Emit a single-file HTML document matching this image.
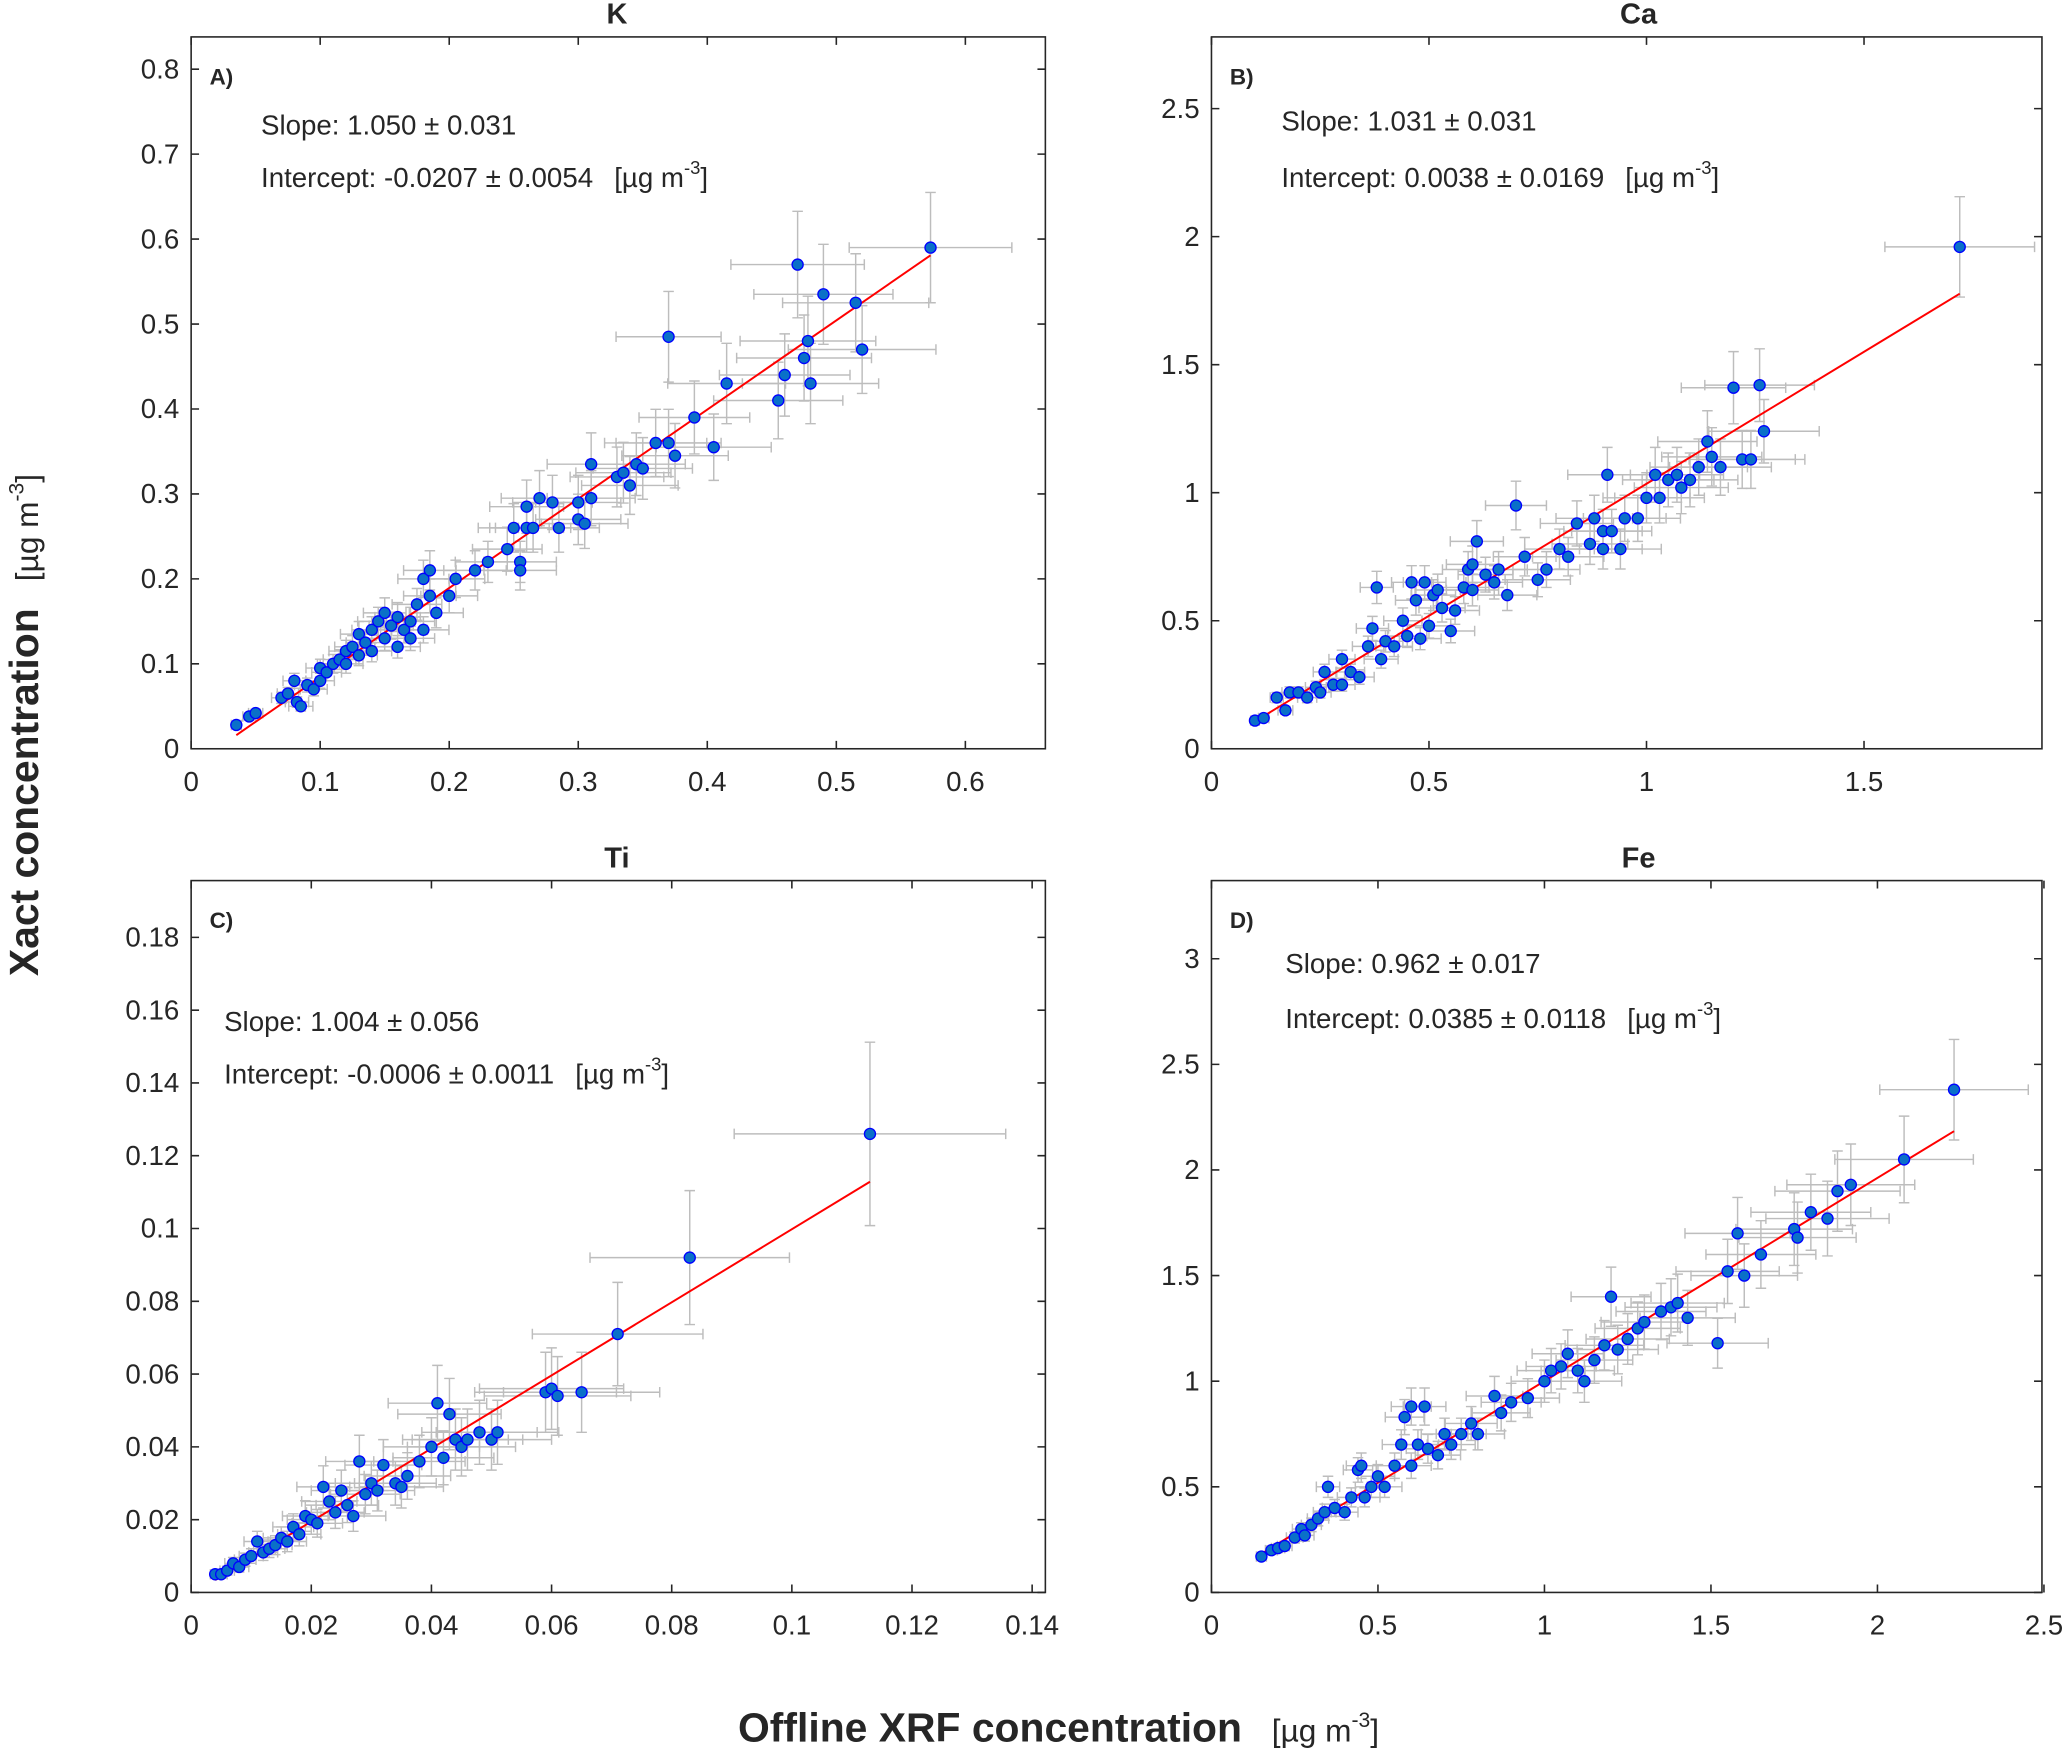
<!DOCTYPE html>
<html><head><meta charset="utf-8"><style>
html,body{margin:0;padding:0;background:#fff}
svg{display:block}
text{font-family:"Liberation Sans",Arial,sans-serif;fill:#262626}
</style></head><body>
<svg id="fig" width="2067" height="1748" viewBox="0 0 1568 1326" xmlns="http://www.w3.org/2000/svg">
<text transform="translate(29,550) rotate(-90)" text-anchor="middle" font-size="31" font-weight="bold" fill="#000">Xact concentration <tspan font-weight="normal" font-size="24" dx="12">[µg m</tspan><tspan font-weight="normal" font-size="16" dy="-11">-3</tspan><tspan font-weight="normal" font-size="24" dy="11">]</tspan></text>
<text x="803" y="1321" text-anchor="middle" font-size="31" font-weight="bold" fill="#000">Offline XRF concentration <tspan font-weight="normal" font-size="24" dx="14">[µg m</tspan><tspan font-weight="normal" font-size="16" dy="-11">-3</tspan><tspan font-weight="normal" font-size="24" dy="11">]</tspan></text>
</svg>
<script>
// Panel A (K)
const kX=[0.035,0.045,0.05,0.07,0.075,0.08,0.082,0.085,0.09,0.095,0.1,0.1,0.105,0.11,0.115,0.12,0.12,0.125,0.13,0.13,0.135,0.14,0.14,0.145,0.15,0.15,0.155,0.16,0.16,0.165,0.17,0.17,0.175,0.18,0.18,0.185,0.185,0.19,0.2,0.205,0.22,0.23,0.245,0.25,0.255,0.255,0.26,0.26,0.265,0.27,0.28,0.285,0.3,0.3,0.305,0.31,0.31,0.33,0.335,0.34,0.345,0.35,0.36,0.37,0.37,0.375,0.39,0.405,0.415,0.455,0.46,0.47,0.475,0.478,0.48,0.49,0.515,0.52,0.573];
const kY=[0.028,0.038,0.042,0.06,0.065,0.08,0.055,0.05,0.075,0.07,0.08,0.095,0.09,0.1,0.105,0.115,0.1,0.12,0.11,0.135,0.125,0.14,0.115,0.15,0.13,0.16,0.145,0.155,0.12,0.14,0.15,0.13,0.17,0.2,0.14,0.21,0.18,0.16,0.18,0.2,0.21,0.22,0.235,0.26,0.22,0.21,0.285,0.26,0.26,0.295,0.29,0.26,0.27,0.29,0.265,0.335,0.295,0.32,0.325,0.31,0.335,0.33,0.36,0.485,0.36,0.345,0.39,0.355,0.43,0.41,0.44,0.57,0.46,0.48,0.43,0.535,0.525,0.47,0.59];
// Panel B (Ca)
const caX=[0.1,0.12,0.15,0.17,0.18,0.2,0.22,0.24,0.25,0.26,0.28,0.3,0.3,0.32,0.34,0.36,0.37,0.38,0.39,0.4,0.42,0.44,0.45,0.46,0.47,0.48,0.49,0.5,0.51,0.52,0.53,0.55,0.56,0.58,0.59,0.6,0.6,0.61,0.63,0.65,0.66,0.68,0.7,0.72,0.75,0.77,0.8,0.82,0.84,0.87,0.88,0.9,0.9,0.91,0.92,0.94,0.95,0.98,1.0,1.02,1.03,1.05,1.07,1.08,1.1,1.12,1.14,1.15,1.17,1.2,1.22,1.24,1.26,1.27,1.72];
const caY=[0.11,0.12,0.2,0.15,0.22,0.22,0.2,0.24,0.22,0.3,0.25,0.35,0.25,0.3,0.28,0.4,0.47,0.63,0.35,0.42,0.4,0.5,0.44,0.65,0.58,0.43,0.65,0.48,0.6,0.62,0.55,0.46,0.54,0.63,0.7,0.72,0.62,0.81,0.68,0.65,0.7,0.6,0.95,0.75,0.66,0.7,0.78,0.75,0.88,0.8,0.9,0.85,0.78,1.07,0.85,0.78,0.9,0.9,0.98,1.07,0.98,1.05,1.07,1.02,1.05,1.1,1.2,1.14,1.1,1.41,1.13,1.13,1.42,1.24,1.96];
// Panel C (Ti)
const tiX=[0.004,0.005,0.006,0.007,0.008,0.009,0.01,0.011,0.012,0.013,0.014,0.015,0.016,0.017,0.018,0.019,0.02,0.021,0.022,0.023,0.024,0.025,0.026,0.027,0.028,0.029,0.03,0.031,0.032,0.034,0.035,0.036,0.038,0.04,0.041,0.042,0.043,0.044,0.045,0.046,0.048,0.05,0.051,0.059,0.06,0.061,0.065,0.071,0.083,0.113];
const tiY=[0.005,0.005,0.006,0.008,0.007,0.009,0.01,0.014,0.011,0.012,0.013,0.015,0.014,0.018,0.016,0.021,0.02,0.019,0.029,0.025,0.022,0.028,0.024,0.021,0.036,0.027,0.03,0.028,0.035,0.03,0.029,0.032,0.036,0.04,0.052,0.037,0.049,0.042,0.04,0.042,0.044,0.042,0.044,0.055,0.056,0.054,0.055,0.071,0.092,0.126];
// Panel D (Fe)
const feX=[0.15,0.18,0.2,0.22,0.25,0.27,0.28,0.3,0.32,0.34,0.35,0.37,0.4,0.42,0.44,0.45,0.46,0.48,0.5,0.52,0.55,0.57,0.58,0.6,0.6,0.62,0.64,0.65,0.68,0.7,0.72,0.75,0.78,0.8,0.85,0.87,0.9,0.95,1.0,1.02,1.05,1.07,1.1,1.12,1.15,1.18,1.2,1.22,1.25,1.28,1.3,1.35,1.38,1.4,1.43,1.52,1.55,1.58,1.6,1.65,1.75,1.76,1.8,1.85,1.88,1.92,2.08,2.23];
const feY=[0.17,0.2,0.21,0.22,0.26,0.3,0.27,0.32,0.35,0.38,0.5,0.4,0.38,0.45,0.58,0.6,0.45,0.5,0.55,0.5,0.6,0.7,0.83,0.88,0.6,0.7,0.88,0.68,0.65,0.75,0.7,0.75,0.8,0.75,0.93,0.85,0.9,0.92,1.0,1.05,1.07,1.13,1.05,1.0,1.1,1.17,1.4,1.15,1.2,1.25,1.28,1.33,1.35,1.37,1.3,1.18,1.52,1.7,1.5,1.6,1.72,1.68,1.8,1.77,1.9,1.93,2.05,2.38];
const slopes=[1.050,1.031,1.004,0.962];
const intercepts=[-0.0207,0.0038,-0.0006,0.0385];
const relErr=[0.11,0.10,0.20,0.10];
const titles=["K","Ca","Ti","Fe"];
const letters=["A)","B)","C)","D)"];
const slopeTxt=["Slope: 1.050 ± 0.031","Slope: 1.031 ± 0.031","Slope: 1.004 ± 0.056","Slope: 0.962 ± 0.017"];
const interTxt=["Intercept: -0.0207 ± 0.0054","Intercept: 0.0038 ± 0.0169","Intercept: -0.0006 ± 0.0011","Intercept: 0.0385 ± 0.0118"];
const xTicks=[[0,0.1,0.2,0.3,0.4,0.5,0.6],[0,0.5,1,1.5],[0,0.02,0.04,0.06,0.08,0.1,0.12,0.14],[0,0.5,1,1.5,2,2.5]];
const yTicks=[[0,0.1,0.2,0.3,0.4,0.5,0.6,0.7,0.8],[0,0.5,1,1.5,2,2.5],[0,0.02,0.04,0.06,0.08,0.1,0.12,0.14,0.16,0.18],[0,0.5,1,1.5,2,2.5,3]];
const xMax=[0.662,1.909,0.1422,2.494];
const yMax=[0.838,2.78,0.1956,3.37];
const dataX=[kX,caX,tiX,feX], dataY=[kY,caY,tiY,feY];
const boxes=[[145,28,648,540],[919,28,630,540],[145,668,648,540],[919,668,630,540]];
const titleX=[468,1243,468,1243];
const textPos=[[198,95,135],[972,92,135],[170,775,815],[975,731,773]];
const svg=document.getElementById('fig');
const NS="http://www.w3.org/2000/svg";
function mk(tag,attrs,parent){const e=document.createElementNS(NS,tag);for(const k in attrs)e.setAttribute(k,attrs[k]);(parent||svg).appendChild(e);return e;}
for(let p=0;p<4;p++){
  const [bx,by,bw,bh]=boxes[p];
  const sx=v=>bx+v/xMax[p]*bw, sy=v=>by+bh-v/yMax[p]*bh;
  const g=mk('g',{});
  
  
  const clip=mk('clipPath',{id:'c'+p},g);mk('rect',{x:bx,y:by,width:bw,height:bh},clip);
  const eb=mk('g',{stroke:'#bdbdbd','stroke-width':1.1,'clip-path':'url(#c'+p+')'},g);
  
  
  const X=dataX[p],Y=dataY[p];
  for(let i=0;i<X.length;i++){
    const dx=X[i]*relErr[p],dy=Y[i]*relErr[p];
    const cx=sx(X[i]),cy=sy(Y[i]),x1=sx(X[i]-dx),x2=sx(X[i]+dx),y1=sy(Y[i]-dy),y2=sy(Y[i]+dy);
    mk('path',{d:`M${x1},${cy}H${x2}M${x1},${cy-4}V${cy+4}M${x2},${cy-4}V${cy+4}M${cx},${y1}V${y2}M${cx-4},${y1}H${cx+4}M${cx-4},${y2}H${cx+4}`,fill:'none'},eb);
  }
  const xmin=Math.min(...X),xmx=Math.max(...X);
  const fl=mk('line',{x1:sx(xmin),y1:sy(intercepts[p]+slopes[p]*xmin),x2:sx(xmx),y2:sy(intercepts[p]+slopes[p]*xmx),stroke:'#ff0000','stroke-width':1.5},g);
  
  
  for(let i=0;i<X.length;i++){
    const c=mk('circle',{cx:sx(X[i]),cy:sy(Y[i]),r:4.2,fill:'#0a70c8',stroke:'#0000ff','stroke-width':1},g);
    
    
  }
  const box=mk('rect',{x:bx,y:by,width:bw,height:bh,fill:'none',stroke:'#262626','stroke-width':1.2},g);
  
  
  for(const t of xTicks[p]){
    const x=sx(t);
    mk('path',{d:`M${x},${by+bh}v-6M${x},${by}v6`,stroke:'#262626','stroke-width':1.2},g);
    const tl=mk('text',{x:x,y:by+bh+32,'text-anchor':'middle','font-size':21},g);
    
    
    tl.textContent=String(+t.toFixed(2));
  }
  for(const t of yTicks[p]){
    const y=sy(t);
    mk('path',{d:`M${bx},${y}h6M${bx+bw},${y}h-6`,stroke:'#262626','stroke-width':1.2},g);
    const tl=mk('text',{x:bx-9,y:y+7,'text-anchor':'end','font-size':21},g);
    
    
    tl.textContent=String(+t.toFixed(2));
  }
  const tt=mk('text',{x:titleX[p],y:by-10,'text-anchor':'middle','font-size':22,'font-weight':'bold',fill:'#000'},g);
  
  
  tt.textContent=titles[p];
  const lt=mk('text',{x:bx+14,y:by+36,'font-size':17,'font-weight':'bold',fill:'#000'},g);
  
  
  lt.textContent=letters[p];
  const [tx,ty1,ty2]=textPos[p];
  const st=mk('text',{x:tx,y:ty1+7,'font-size':21,fill:'#000'},g);
  
  
  st.textContent=slopeTxt[p];
  const it=mk('text',{x:tx,y:ty2+7,'font-size':21,fill:'#000'},g);
  
  
  it.innerHTML=interTxt[p]+'<tspan dx="16">[µg m</tspan><tspan font-size="14" dy="-10">-3</tspan><tspan dy="10">]</tspan>';
}
</script>
</body></html>
